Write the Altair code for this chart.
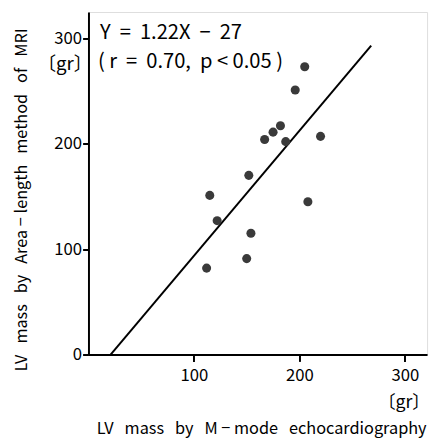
import altair as alt
import pandas as pd

# Data
echo_x = [112, 115, 122, 150, 154, 152, 167, 175, 182, 187, 196, 205, 220, 208]
mri_y = [82, 151, 127, 91, 115, 170, 204, 211, 217, 202, 251, 273, 207, 145]

line_x = [21, 268]
line_y = [0, 293]

x_ticks = [100, 200, 300]
y_ticks = [0, 100, 200, 300]

FONT = "Noto Sans CJK JP"
S3 = "\u00a0\u00a0\u00a0"
S2 = "\u00a0\u00a0"

x_title = f"LV{S3}mass{S3}by{S3}M\u00a0−\u00a0mode{S3}echocardiography"
y_title = f"LV{S3}mass{S3}by{S3}Area\u00a0−\u00a0length{S3}method{S3}of{S3}MRI"

pts = pd.DataFrame({"x": echo_x, "y": mri_y})
ln = pd.DataFrame({"x": line_x, "y": line_y})

xscale = alt.Scale(domain=[0, 321], nice=False, zero=False)
yscale = alt.Scale(domain=[0, 325], nice=False, zero=False)

xaxis = alt.Axis(
    values=x_ticks, grid=False, domainColor="black", domainWidth=2,
    tickColor="black", tickWidth=2, tickSize=7, labelFontSize=17,
    labelFont=FONT, labelColor="black", labelPadding=6,
    title=x_title,
    titleFont=FONT, titleFontSize=16.6, titleFontWeight="normal",
    titleColor="black", titleX=176, titleY=80, titleAlign="center",
    titleBaseline="alphabetic",
)
yaxis = alt.Axis(
    values=y_ticks, grid=False, domainColor="black", domainWidth=2,
    tickColor="black", tickWidth=2, tickSize=6, labelFontSize=17,
    labelFont=FONT, labelColor="black", labelPadding=1,
    title=y_title,
    titleFont=FONT, titleFontSize=16.6, titleFontWeight="normal",
    titleColor="black", titleX=-63, titleY=191, titleAlign="center",
    titleBaseline="alphabetic",
)

points = alt.Chart(pts).mark_circle(size=85, color="#3a3a3a", opacity=1).encode(
    x=alt.X("x:Q", scale=xscale, axis=xaxis),
    y=alt.Y("y:Q", scale=yscale, axis=yaxis),
)

line = alt.Chart(ln).mark_line(color="black", strokeWidth=2).encode(
    x=alt.X("x:Q", scale=xscale),
    y=alt.Y("y:Q", scale=yscale),
)

eq_lines = [
    f"Y{S2}={S2}1.22X{S2}−{S2}27",
    f"(\u00a0r{S2}={S2}0.70,{S2}p\u00a0<\u00a00.05\u00a0)",
]
eq = pd.DataFrame({"t": eq_lines, "x": [11, 9], "y": [299, 272]})
eq_text = alt.Chart(eq).mark_text(
    align="left", baseline="alphabetic", font=FONT, fontSize=20.5, color="black"
).encode(
    x=alt.X("x:Q", scale=xscale),
    y=alt.Y("y:Q", scale=yscale),
    text="t:N",
)

unit_y = alt.Chart(pd.DataFrame({"t": ["〔gr〕"]})).mark_text(
    align="left", baseline="middle", font=FONT, fontSize=19, color="black"
).encode(x=alt.value(-52), y=alt.value(53), text="t:N")

unit_x = alt.Chart(pd.DataFrame({"t": ["〔gr〕"]})).mark_text(
    align="right", baseline="middle", font=FONT, fontSize=18, color="black"
).encode(x=alt.value(348), y=alt.value(398), text="t:N")

chart = alt.layer(line, points, eq_text, unit_y, unit_x).properties(
    width=345, height=349,
    autosize=alt.AutoSizeParams(type="none"),
    padding={"left": 82, "top": 0, "right": 4, "bottom": 82},
).configure_view(stroke=None).configure(background="white")

chart.save("out.html", embed_options={"renderer": "svg", "actions": False})
